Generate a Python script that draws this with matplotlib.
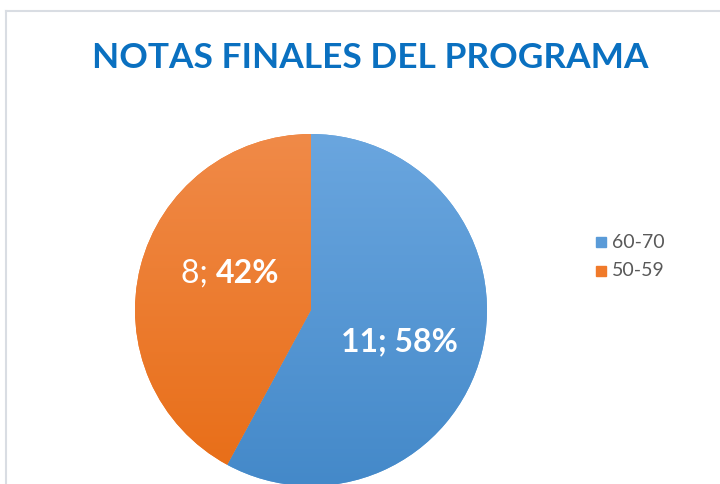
import numpy as np
import matplotlib.pyplot as plt
from matplotlib.lines import Line2D
from matplotlib.patches import Rectangle

categories = ["60-70", "50-59"]
values = [11, 8]
title = "NOTAS FINALES DEL PROGRAMA"

plt.rcParams['font.family'] = ['Lato', 'DejaVu Sans']

fig = plt.figure(figsize=(7.2, 4.84), dpi=100)
W, H = 720, 484

# outer chart border (light grey)
fig.add_artist(Line2D([6 / W, 6 / W], [0, 1 - 11 / H], color="#d9dde3", lw=1.5))
fig.add_artist(Line2D([6 / W, 1], [1 - 11 / H, 1 - 11 / H], color="#d9dde3", lw=1.5))

fig.text(370 / W, 1 - 58 / H, title, ha="center", va="center",
         fontsize=25.4, fontweight="bold", color="#0a70c0")

cx, cy, r = 311, 310, 176
ax = fig.add_axes([(cx - r) / W, 1 - (cy + r) / H, 2 * r / W, 2 * r / H])

wedges, _ = ax.pie(values, startangle=90, counterclock=False, radius=1,
                   colors=["#5a9bd8", "#f07a2a"], wedgeprops=dict(linewidth=0))
ax.set_aspect("auto")
ax.axis("off")

# vertical gradient like the Excel style
grads = [("#6aa6df", "#4489c9"), ("#f08a48", "#e86d16")]
for w, (top, bot) in zip(wedges, grads):
    c1 = np.array(plt.matplotlib.colors.to_rgb(top))
    c2 = np.array(plt.matplotlib.colors.to_rgb(bot))
    t = np.linspace(0, 1, 256)[:, None]
    img = (c1 * (1 - t) + c2 * t)[:, None, :]
    im = ax.imshow(img, extent=[-1, 1, -1, 1], aspect="auto", zorder=2)
    im.set_clip_path(w)
ax.set_xlim(-1, 1)
ax.set_ylim(-1, 1)

# data labels
total = sum(values)
pcts = [round(v / total * 100) for v in values]
ax.text(0.50, -0.18, f"{values[0]}; {pcts[0]}%", ha="center", va="center",
        fontsize=23, fontweight="bold", color="white", zorder=5)
ax.text(-0.54, 0.21, f"{values[1]}; ", ha="right", va="center",
        fontsize=23, color="white", zorder=5)
ax.text(-0.54, 0.21, f"{pcts[1]}%", ha="left", va="center",
        fontsize=23, fontweight="bold", color="white", zorder=5)

# legend
for i, (lab, col) in enumerate(zip(categories, ["#5a9bd8", "#f07a2a"])):
    y = 1 - (242 + i * 29) / H
    fig.add_artist(Rectangle((596 / W, y - 5 / H), 10 / W, 10 / H,
                             color=col, transform=fig.transFigure))
    fig.text(612 / W, y, lab, ha="left", va="center", fontsize=14,
             color="#595959")

fig.savefig("out.png", dpi=100)
